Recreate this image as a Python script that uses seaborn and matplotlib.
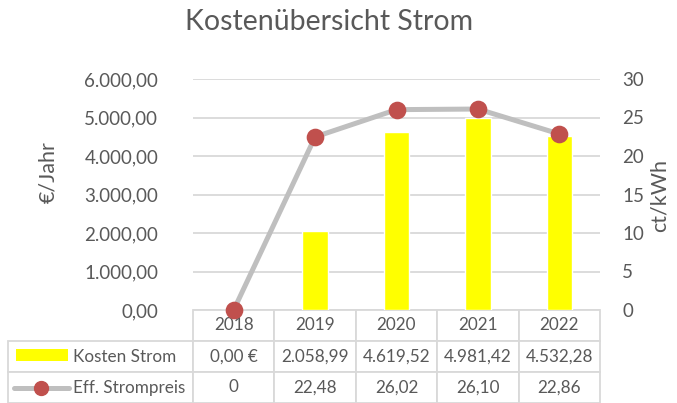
import numpy as np
import pandas as pd
import matplotlib
matplotlib.use("Agg")
import matplotlib.pyplot as plt
import seaborn as sns
from matplotlib.ticker import FuncFormatter, MultipleLocator
from matplotlib.patches import Rectangle
from matplotlib.lines import Line2D

# chart data
years = ["2018", "2019", "2020", "2021", "2022"]
kosten = [0.00, 2058.99, 4619.52, 4981.42, 4532.28]
strompreis = [0.00, 22.48, 26.02, 26.10, 22.86]
kosten_labels = ["0,00 €", "2.058,99", "4.619,52", "4.981,42", "4.532,28"]
preis_labels = ["0", "22,48", "26,02", "26,10", "22,86"]
series_names = ["Kosten Strom", "Eff. Strompreis"]

df = pd.DataFrame({"Jahr": years, "Kosten": kosten, "Preis": strompreis})

sns.set_style("white")
plt.rcParams["font.family"] = ["Lato", "DejaVu Sans"]
txt = "#595959"
grid = "#D9D9D9"

fig = plt.figure(figsize=(6.77, 4.03), dpi=100)
W, H = 677, 403
ax = fig.add_axes([193 / W, (H - 310) / H, 407 / W, 231 / H])

sns.barplot(data=df, x="Jahr", y="Kosten", ax=ax, color="#FFFF00",
            width=0.31, saturation=1, zorder=2)
ax.set_ylim(0, 6000)
ax.yaxis.set_major_locator(MultipleLocator(1000))
ax.yaxis.set_major_formatter(FuncFormatter(
    lambda v, p: f"{v:,.2f}".replace(",", "X").replace(".", ",").replace("X", ".")))
ax.grid(axis="y", color=grid, linewidth=1.3, zorder=0)
ax.set_axisbelow(True)
ax.set_xlabel("")
ax.set_ylabel("€/Jahr", fontsize=15.5, color=txt)
ax.yaxis.set_label_coords((58 - 193) / 407, (310 - 172) / 231)
ax.tick_params(axis="y", length=0, labelsize=13.5, labelcolor=txt, pad=25)
ax.set_xticks([])
for s in ax.spines.values():
    s.set_visible(False)

ax2 = ax.twinx()
sns.pointplot(data=df, x="Jahr", y="Preis", ax=ax2, color="#BFBFBF",
              markers="o", linewidth=3.6, markersize=10,
              markerfacecolor="#C0504D", markeredgecolor="#C0504D")
for ln in ax2.lines:
    ln.set_clip_on(False)
    ln.set_zorder(5)
ax2.set_ylim(0, 30)
ax2.yaxis.set_major_locator(MultipleLocator(5))
ax2.set_xlim(-0.5, 4.5)
ax2.set_xlabel("")
ax2.set_xticks([])
ax2.set_ylabel("ct/kWh", fontsize=15.5, color=txt)
ax2.yaxis.set_label_coords((650 - 193) / 407, (310 - 196) / 231)
ax2.tick_params(axis="y", length=0, labelsize=13.5, labelcolor=txt, pad=16)
for s in ax2.spines.values():
    s.set_visible(False)

# data table below plot
cells = [[""] + years,
         [series_names[0]] + kosten_labels,
         [series_names[1]] + preis_labels]
x0, x1 = 8, 600
tbl = ax.table(cellText=cells,
               colWidths=[185 / 592] + [81.4 / 592] * 5,
               cellLoc="center",
               bbox=[(x0 - 193) / 407, (310 - 403) / 231, (x1 - x0) / 407, 93 / 231])
tbl.auto_set_font_size(False)
for (r, c), cell in tbl.get_celld().items():
    cell.set_edgecolor(grid)
    cell.set_linewidth(1.3)
    cell.get_text().set_color(txt)
    cell.get_text().set_fontsize(12.3)
    if r == 0 and c == 0:
        cell.visible_edges = "open"
    elif c == 0:
        cell.get_text().set_horizontalalignment("left")
        cell._loc = "left"
        cell.PAD = 65 / 185

# legend keys inside the table
fig.add_artist(Rectangle((16 / W, (H - 361) / H), 52 / W, 12 / H,
                         transform=fig.transFigure, color="#FFFF00", lw=0))
fig.add_artist(Line2D([14 / W, 69 / W], [(H - 388) / H] * 2, transform=fig.transFigure,
                      color="#BFBFBF", lw=3.6, solid_capstyle="round"))
fig.add_artist(Line2D([41 / W], [(H - 388) / H], transform=fig.transFigure,
                      marker="o", markersize=10, color="#C0504D"))

fig.text(329 / W, 1 - 22 / H, "Kostenübersicht Strom", ha="center", va="center",
         fontsize=20.5, color=txt)

fig.savefig("out.png", dpi=100)
